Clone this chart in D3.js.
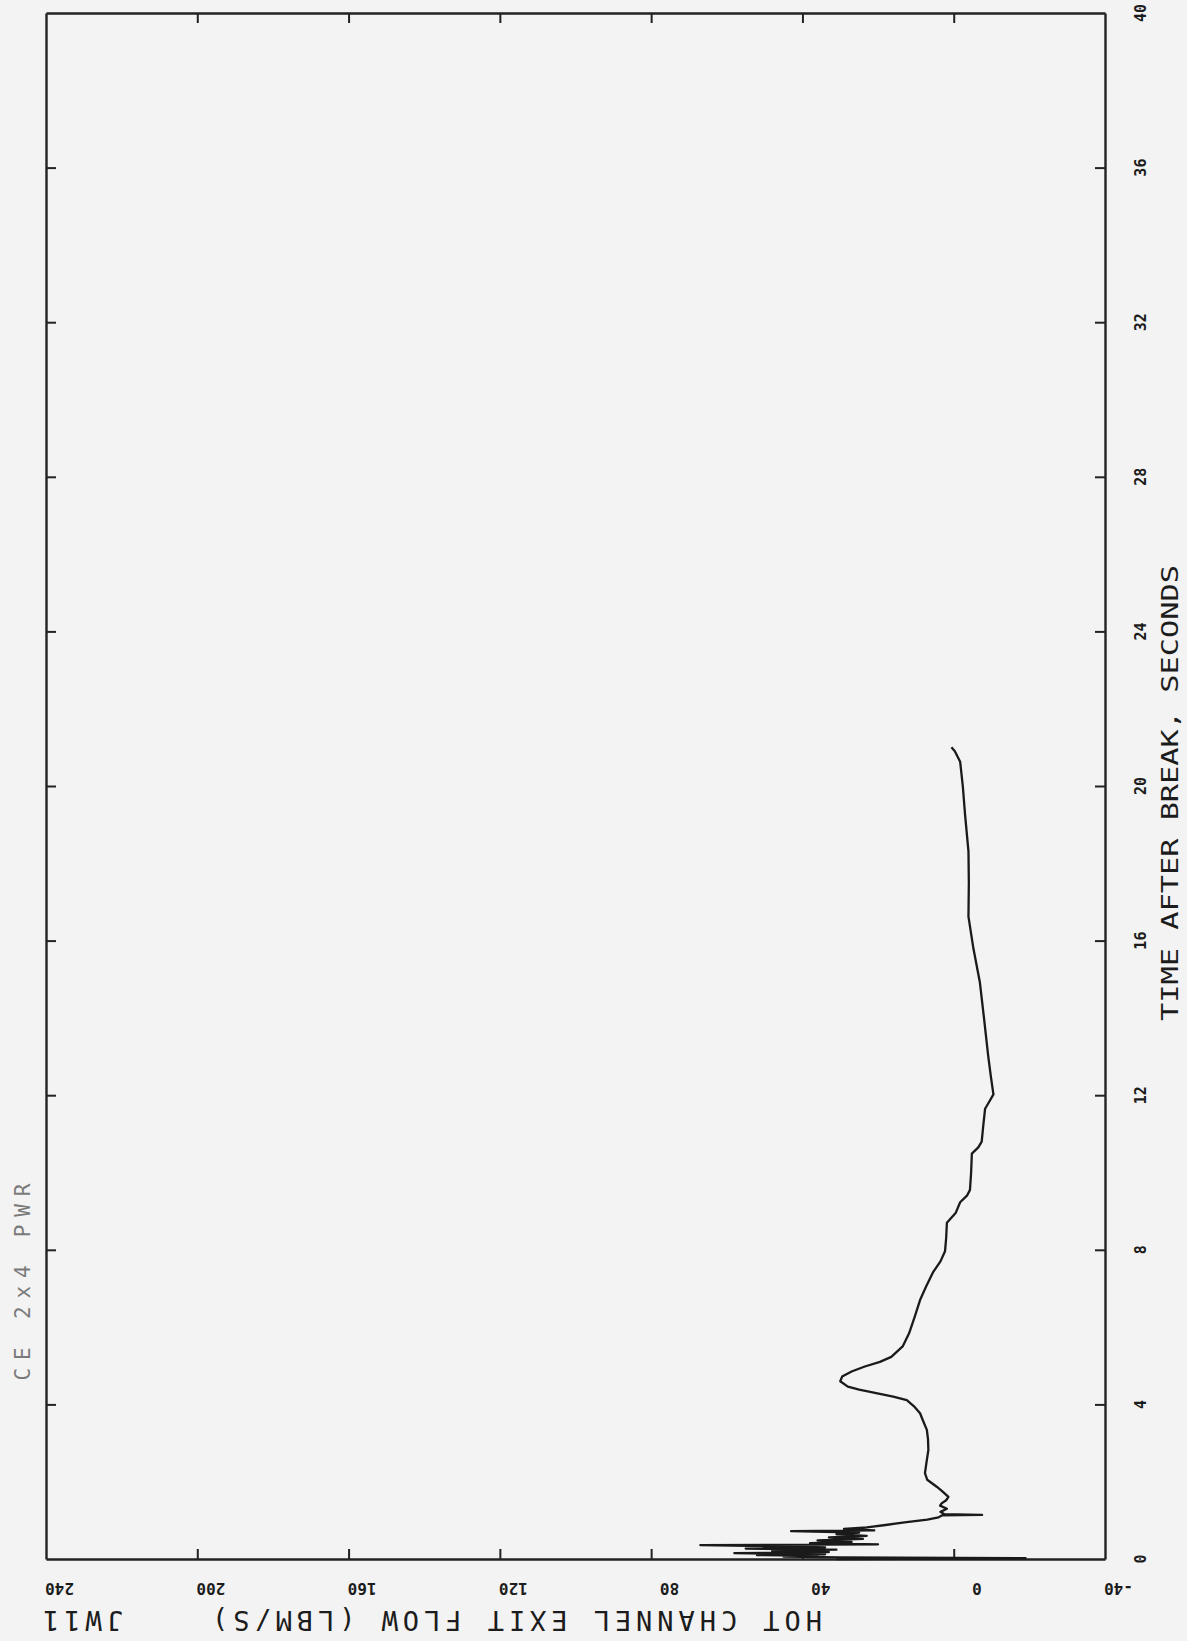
<!DOCTYPE html>
<html>
<head>
<meta charset="utf-8">
<script src="https://cdn.jsdelivr.net/npm/d3@7"></script>
<style>
  body { margin: 0; background: #f3f3f3; }
  text { font-family: "DejaVu Sans Mono", monospace; fill: #1c1c1c; }
</style>
</head>
<body>
<svg id="chart" width="1187" height="1641"></svg>
<script>
// plot is printed sideways: time runs up the right edge, flow runs right-to-left along the bottom
const timeTicks = [0, 4, 8, 12, 16, 20, 24, 28, 32, 36, 40];
const flowTicks = [-40, 0, 40, 80, 120, 160, 200, 240];

// hot channel exit flow trace
const timeS = [0.00, 0.02, 0.04, 0.06, 0.08, 0.10, 0.12, 0.15, 0.18, 0.21, 0.24, 0.27, 0.30, 0.33,
  0.36, 0.38, 0.41, 0.44, 0.48, 0.52, 0.56, 0.60, 0.64, 0.68, 0.72, 0.74, 0.78, 0.82, 0.88, 0.95,
  1.02, 1.08, 1.13, 1.14, 1.16, 1.22, 1.30, 1.38, 1.44, 1.52, 1.61, 1.75, 1.87, 2.05, 2.22, 2.50,
  2.82, 3.10, 3.34, 3.55, 3.77, 3.95, 4.11, 4.20, 4.29, 4.38, 4.46, 4.60, 4.72, 4.85, 4.98, 5.10,
  5.23, 5.50, 5.84, 6.27, 6.70, 7.05, 7.43, 7.70, 7.96, 8.30, 8.70, 8.95, 9.23, 9.40, 9.55, 10.0,
  10.49, 10.65, 10.8, 11.2, 11.65, 11.85, 12.02, 12.5, 13.03, 14.0, 14.93, 15.8, 16.62, 17.5,
  18.31, 19.26, 20.0, 20.63, 20.9, 21.0];
const flowLbm = [31, -19, 30, 45, 36, 52, 34, 58, 33, 48, 31, 55, 34, 46,
  67, 20, 38, 27, 36, 24, 33, 23, 31, 25, 43, 21, 29, 23, 18, 13,
  7, 4, 3, -7.5, 2.5, 3.5, 1.8, 3.6, 3.2, 2.0, 1.4, 3.0, 4.5, 7.0, 7.6, 7.2,
  6.7, 6.8, 7.1, 8.0, 8.9, 10.5, 12.4, 16.0, 20.5, 25.0, 28.0, 30.0, 29.5, 27.0, 23.5, 19.5,
  16.5, 13.5, 11.8, 10.3, 8.9, 7.3, 5.4, 3.5, 2.3, 2.0, 1.8, -0.5, -1.7, -3.5, -4.3, -4.6,
  -4.8, -6.5, -7.4, -7.8, -8.3, -9.5, -10.5, -9.8, -9.1, -8.0, -6.9, -5.2, -3.9, -4.0,
  -3.9, -3.0, -2.4, -1.7, -0.3, 0.6];

const svg = d3.select('#chart');
const plotL = 46, plotR = 1105, plotT = 13, plotB = 1559;

const xFlow = d3.scaleLinear().domain([-40, 240]).range([plotR, plotL]);
const yTime = d3.scaleLinear().domain([0, 40]).range([plotB, plotT]);

const innerT = v => v !== 0 && v !== 40;
const innerF = v => v !== -40 && v !== 240;

function frame(g) {
  g.selectAll('.domain').attr('stroke', '#222').attr('stroke-width', 2.4);
  g.selectAll('.tick line').attr('stroke', '#222').attr('stroke-width', 2);
}

svg.append('g').attr('transform', `translate(0,${plotB})`)
  .call(d3.axisTop(xFlow).tickValues(flowTicks.filter(innerF)).tickSize(10).tickSizeOuter(0).tickFormat(''))
  .call(frame);
svg.append('g').attr('transform', `translate(0,${plotT})`)
  .call(d3.axisBottom(xFlow).tickValues(flowTicks.filter(innerF)).tickSize(10).tickSizeOuter(0).tickFormat(''))
  .call(frame);
svg.append('g').attr('transform', `translate(${plotR},0)`)
  .call(d3.axisLeft(yTime).tickValues(timeTicks.filter(innerT)).tickSize(10).tickSizeOuter(0).tickFormat(''))
  .call(frame);
svg.append('g').attr('transform', `translate(${plotL},0)`)
  .call(d3.axisRight(yTime).tickValues(timeTicks.filter(innerT)).tickSize(10).tickSizeOuter(0).tickFormat(''))
  .call(frame);

// flow tick labels, upside down
svg.append('g').selectAll('text').data(flowTicks).enter().append('text')
  .attr('transform', d => `translate(${xFlow(d) + 28},1588) rotate(180)`)
  .attr('text-anchor', 'start')
  .attr('dominant-baseline', 'central')
  .attr('font-size', 16)
  .attr('font-weight', 'bold')
  .text(d => d);

// time tick labels, reading bottom to top
svg.append('g').selectAll('text').data(timeTicks).enter().append('text')
  .attr('transform', d => `translate(1141,${yTime(d)}) rotate(-90)`)
  .attr('text-anchor', 'middle')
  .attr('dominant-baseline', 'central')
  .attr('font-size', 15)
  .attr('font-weight', 'bold')
  .text(d => d);

svg.append('text')
  .attr('transform', 'translate(1170,793) rotate(-90)')
  .attr('text-anchor', 'middle')
  .attr('dominant-baseline', 'central')
  .attr('font-size', 23)
  .attr('textLength', 456).attr('lengthAdjust', 'spacingAndGlyphs')
  .text('TIME AFTER BREAK, SECONDS');

svg.append('text')
  .attr('transform', 'translate(517,1620) rotate(180)')
  .attr('text-anchor', 'middle')
  .attr('dominant-baseline', 'central')
  .attr('font-size', 27)
  .attr('textLength', 610).attr('lengthAdjust', 'spacing')
  .text('HOT CHANNEL EXIT FLOW (LBM/S)');

svg.append('text')
  .attr('transform', 'translate(83,1620) rotate(180)')
  .attr('text-anchor', 'middle')
  .attr('dominant-baseline', 'central')
  .attr('font-size', 27)
  .attr('textLength', 80).attr('lengthAdjust', 'spacing')
  .text('JW11');

svg.append('text')
  .attr('transform', 'translate(23,1282) rotate(-90)')
  .attr('text-anchor', 'middle')
  .attr('dominant-baseline', 'central')
  .attr('font-size', 21)
  .style('fill', '#7a7a7a')
  .attr('textLength', 197).attr('lengthAdjust', 'spacing')
  .text('CE  2x4  PWR');

const pts = timeS.map((t, i) => ({ t: t, f: flowLbm[i] }));
const line = d3.line().x(d => xFlow(d.f)).y(d => yTime(d.t));

svg.append('path')
  .datum(pts)
  .attr('d', line)
  .attr('fill', 'none')
  .attr('stroke', '#1a1a1a')
  .attr('stroke-width', 2.3)
  .attr('stroke-linejoin', 'round');
</script>
</body>
</html>
